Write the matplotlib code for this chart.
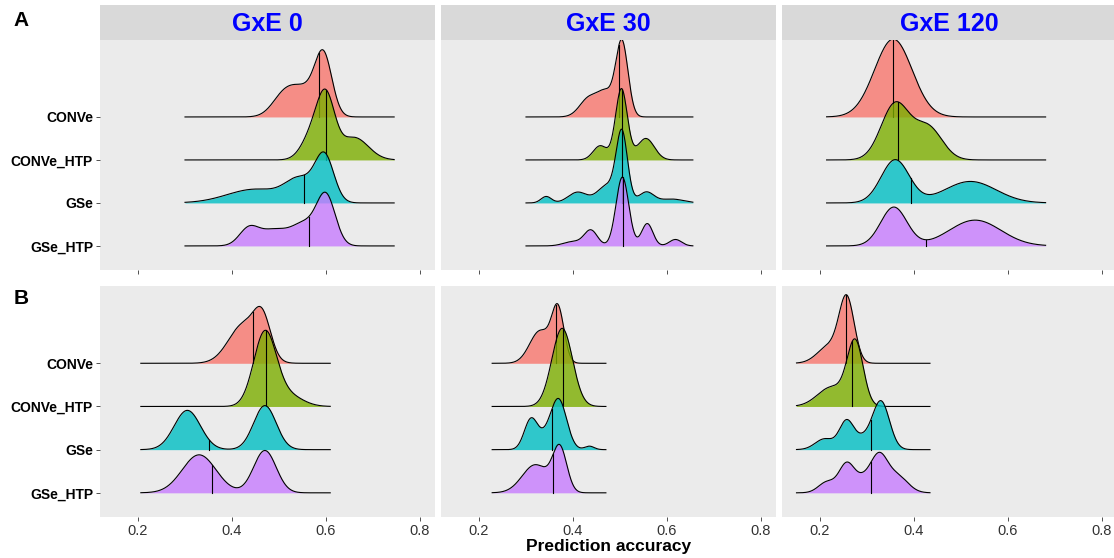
import numpy as np
import matplotlib.pyplot as plt

plt.rcParams['font.family'] = ['Liberation Sans', 'DejaVu Sans']

models = ['CONVe', 'CONVe_HTP', 'GSe', 'GSe_HTP']
envs = ['GxE 0', 'GxE 30', 'GxE 120']
colors = ['#F8766D', '#7CAE00', '#00BFC4', '#C77CFF']
xticks = [0.2, 0.4, 0.6, 0.8]

# density bumps: (centre, spread, height in ridge units)
# order of rows: CONVe, CONVe_HTP, GSe, GSe_HTP
bumps_A0 = [
    [(0.595, 0.018, 1.3), (0.555, 0.03, 0.6), (0.51, 0.025, 0.45)],
    [(0.600, 0.019, 1.35), (0.57, 0.022, 0.55), (0.66, 0.03, 0.52)],
    [(0.597, 0.020, 1.05), (0.545, 0.03, 0.5), (0.45, 0.06, 0.32)],
    [(0.600, 0.020, 1.15), (0.555, 0.025, 0.45), (0.49, 0.035, 0.38), (0.435, 0.02, 0.35)],
]
bumps_A30 = [
    [(0.504, 0.013, 1.75), (0.47, 0.016, 0.5), (0.435, 0.02, 0.45)],
    [(0.503, 0.0125, 1.65), (0.458, 0.015, 0.33), (0.555, 0.018, 0.5)],
    [(0.504, 0.012, 1.6), (0.472, 0.02, 0.4), (0.41, 0.02, 0.25),
     (0.343, 0.011, 0.15), (0.556, 0.016, 0.25), (0.61, 0.025, 0.09)],
    [(0.505, 0.0135, 1.6), (0.438, 0.014, 0.36), (0.40, 0.02, 0.1),
     (0.558, 0.012, 0.52), (0.618, 0.013, 0.15)],
]
bumps_A120 = [
    [(0.356, 0.040, 1.81)],
    [(0.360, 0.030, 1.3), (0.43, 0.03, 0.75)],
    [(0.360, 0.030, 1.0), (0.52, 0.055, 0.5)],
    [(0.357, 0.028, 0.9), (0.53, 0.055, 0.6)],
]
bumps_B0 = [
    [(0.465, 0.018, 0.85), (0.425, 0.032, 0.9)],
    [(0.470, 0.024, 1.7), (0.52, 0.03, 0.25)],
    [(0.305, 0.028, 0.91), (0.47, 0.024, 1.02)],
    [(0.330, 0.036, 0.88), (0.47, 0.024, 0.98)],
]
bumps_B30 = [
    [(0.368, 0.013, 1.2), (0.33, 0.022, 0.75)],
    [(0.377, 0.022, 1.81)],
    [(0.370, 0.017, 1.1), (0.31, 0.014, 0.65), (0.435, 0.01, 0.08), (0.34, 0.02, 0.25)],
    [(0.372, 0.015, 1.0), (0.32, 0.028, 0.65)],
]
bumps_B120 = [
    [(0.257, 0.016, 1.45), (0.22, 0.025, 0.4)],
    [(0.275, 0.017, 1.45), (0.225, 0.03, 0.45)],
    [(0.330, 0.018, 1.1), (0.256, 0.015, 0.62), (0.21, 0.02, 0.25), (0.29, 0.02, 0.25)],
    [(0.326, 0.018, 0.8), (0.256, 0.016, 0.62), (0.215, 0.018, 0.25),
     (0.29, 0.02, 0.3), (0.365, 0.022, 0.38)],
]

medians_A = [[0.585, 0.600, 0.554, 0.563],
             [0.498, 0.505, 0.505, 0.506],
             [0.356, 0.367, 0.393, 0.426]]
medians_B = [[0.444, 0.472, 0.352, 0.358],
             [0.363, 0.379, 0.355, 0.358],
             [0.256, 0.269, 0.308, 0.309]]

ranges_A = [(0.30, 0.745), (0.30, 0.655), (0.214, 0.68)]
ranges_B = [(0.206, 0.609), (0.228, 0.47), (0.15, 0.434)]


def dens(comp, x):
    return sum(a * np.exp(-0.5 * ((x - m) / s) ** 2) for m, s, a in comp)


def ridges(ax, bumps, medians, xr):
    x = np.linspace(xr[0], xr[1], 500)
    for i, (comp, med) in enumerate(zip(bumps, medians)):
        base = 4 - i
        d = dens(comp, x)
        ax.fill_between(x, base, base + d, color=colors[i], alpha=0.8, lw=0, zorder=2 + i * 3)
        ax.plot(x, base + d, color='black', lw=0.8, zorder=3 + i * 3)
        ax.plot([med, med], [base, base + dens(comp, med)], color='black', lw=0.8, zorder=3 + i * 3)


fig = plt.figure(figsize=(11.14, 5.58), dpi=100)
W, H = 1114, 558
lefts = [100, 441, 782]
pw = 335

rows = [(40, 270, [bumps_A0, bumps_A30, bumps_A120], medians_A, ranges_A),
        (286, 517, [bumps_B0, bumps_B30, bumps_B120], medians_B, ranges_B)]

for r, (top, bot, bumps, meds, rngs) in enumerate(rows):
    for c in range(3):
        ax = fig.add_axes([lefts[c] / W, 1 - bot / H, pw / W, (bot - top) / H])
        ax.set_facecolor('#EBEBEB')
        for s in ax.spines.values():
            s.set_visible(False)
        ridges(ax, bumps[c], meds[c], rngs[c])
        ax.set_xlim(0.2 - 38 / 470, 0.2 + 297 / 470)
        ax.set_ylim(0.44, 5.79)
        ax.set_xticks(xticks)
        ax.set_xticklabels([f'{v:.1f}' for v in xticks], fontsize=10.5, color='#333333')
        ax.set_yticks([4, 3, 2, 1])
        ax.set_yticklabels(models, fontsize=10, fontweight='bold', color='black')
        ax.tick_params(length=3, width=0.6, color='#333333', pad=2)
        if r == 0:
            ax.tick_params(labelbottom=False)
        if c > 0:
            ax.tick_params(left=False, labelleft=False)
        if r == 0:
            st = fig.add_axes([lefts[c] / W, 1 - 40 / H, pw / W, 35 / H])
            st.set_facecolor('#D9D9D9')
            st.set_xticks([])
            st.set_yticks([])
            for s in st.spines.values():
                s.set_visible(False)
            st.text(0.5, 0.45, envs[c], transform=st.transAxes, ha='center', va='center',
                    fontsize=18, fontweight='bold', color='#0000FF')

fig.text(21 / W, 1 - 21 / H, 'A', fontsize=15, fontweight='bold', ha='center', va='center')
fig.text(21 / W, 1 - 299 / H, 'B', fontsize=15, fontweight='bold', ha='center', va='center')
fig.text(609 / W, 1 - 546 / H, 'Prediction accuracy', fontsize=12.5, fontweight='bold',
         ha='center', va='center')

fig.savefig('out.png', dpi=100)
